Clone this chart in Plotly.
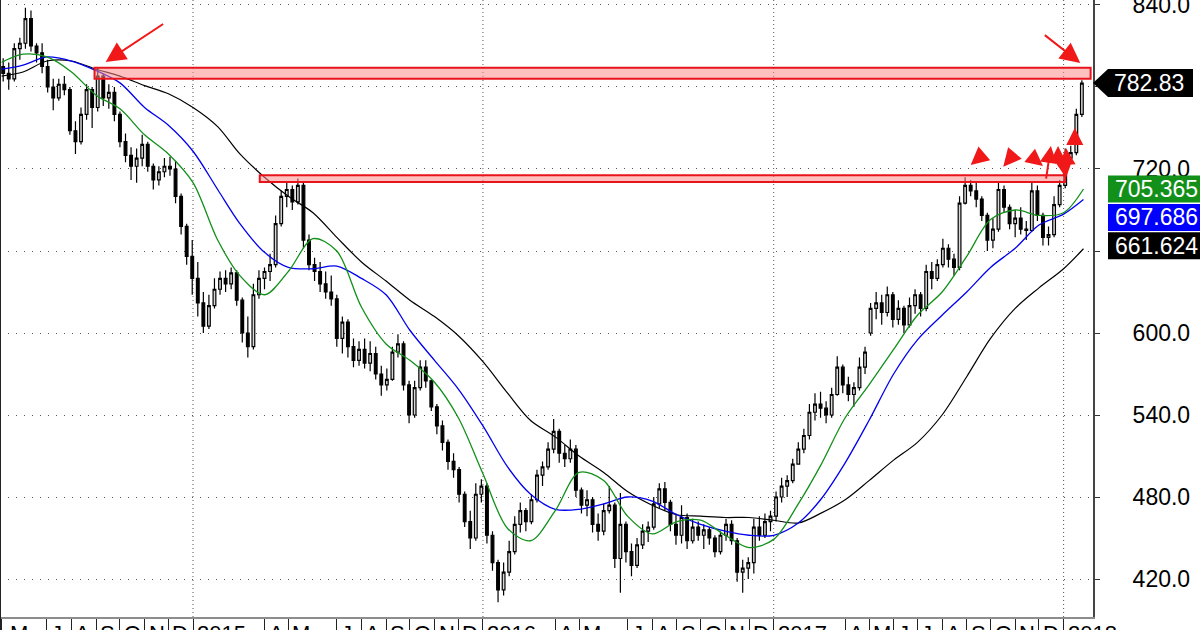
import plotly.graph_objects as go
import pandas as pd

# ---------------- data ----------------
week_dates = pd.date_range("2014-05-07", periods=195, freq="7D")

opens = [795,790,786,808,812,830,810,805,795,780,772,782,778,748,740,760,778,765,788,772,
         776,760,740,730,722,728,738,722,712,718,722,720,700,678,656,640,622,605,620,632,
         640,636,644,624,600,590,628,640,645,650,680,700,705,696,708,668,650,645,636,630,
         625,596,608,590,580,588,578,585,570,562,566,586,592,562,540,560,575,565,546,532,
         520,506,500,482,462,450,482,488,452,432,412,425,440,460,470,462,478,496,502,515,
         528,512,508,515,485,474,478,460,455,470,474,435,460,440,430,445,455,458,475,486,
         476,460,452,465,448,458,452,456,450,440,452,460,448,425,428,432,458,452,462,466,
         480,488,492,504,515,525,542,548,545,540,555,575,562,555,560,575,600,618,622,615,
         628,610,618,606,620,628,618,645,640,650,662,654,648,695,708,704,698,686,668,676,
         705,692,680,684,676,675,704,686,670,672,694,708,728,732,760]
highs = [801,798,812,816,838,836,812,812,800,786,786,788,780,755,765,782,780,794,790,782,
         780,762,746,736,735,745,740,724,722,728,729,726,702,680,668,652,630,628,640,645,
         646,648,646,626,612,636,646,648,658,686,704,710,708,713,710,672,655,652,645,642,
         628,612,610,596,594,596,594,590,576,574,590,599,594,565,565,580,580,566,548,536,
         522,512,502,484,470,490,493,490,455,434,432,448,466,476,472,482,500,506,520,537,
         530,518,522,518,487,485,480,468,475,488,476,483,462,446,450,460,462,480,490,491,
         478,468,474,468,464,462,460,458,452,455,464,463,450,434,436,464,466,468,470,484,
         494,496,508,520,530,548,556,557,550,560,583,577,568,564,582,590,622,630,628,634,
         630,624,620,626,632,630,650,652,654,669,665,658,700,714,712,710,700,688,684,711,
         708,694,690,692,682,710,708,688,678,700,712,735,737,764,785]
lows = [784,778,784,800,808,806,798,790,776,763,770,774,745,731,738,756,750,762,766,764,
        755,736,725,712,710,722,718,705,708,714,715,695,672,650,628,612,600,603,618,628,
        630,632,620,593,582,588,625,632,638,648,678,692,690,694,662,646,638,630,625,620,
        590,585,582,575,576,574,572,566,554,558,565,582,558,534,538,558,560,543,526,514,
        500,494,476,458,442,448,476,446,426,403,408,422,438,454,455,460,476,488,500,512,
        505,502,505,480,468,466,454,448,452,468,428,410,432,422,428,442,447,456,472,470,
        455,445,446,442,446,448,442,445,436,438,448,445,418,410,420,424,448,450,455,462,
        476,480,490,504,512,522,536,538,534,538,554,556,550,546,558,570,598,610,606,612,
        604,606,600,604,614,612,616,632,638,648,648,642,646,694,700,692,682,660,662,674,
        688,676,670,672,668,674,682,664,664,670,692,706,724,730,758]
closes = [790,786,808,812,830,810,805,795,780,772,782,778,748,740,760,778,765,788,772,776,
          760,740,730,722,728,738,722,712,718,722,720,700,678,656,640,622,605,620,632,640,
          636,644,624,600,590,628,640,645,650,680,700,705,696,708,668,650,645,636,630,625,
          596,608,590,580,588,578,585,570,562,566,586,592,562,540,560,575,565,546,532,520,
          506,500,482,462,450,482,488,452,432,412,425,440,460,470,462,478,496,502,515,528,
          512,508,515,485,474,478,460,455,470,474,435,460,440,430,445,455,458,475,486,476,
          460,452,465,448,458,452,456,450,440,452,460,448,425,428,432,458,452,462,466,480,
          488,492,504,515,525,542,548,545,540,555,575,562,555,560,575,586,618,622,615,628,
          610,618,606,620,628,618,645,640,650,662,654,648,695,708,704,698,686,668,676,705,
          692,680,684,676,675,704,686,670,672,694,708,728,732,760,782.83]

# moving averages read at the start of each month (plus first / last day)
ma_dates = (["2014-05-05"]
            + [d.strftime("%Y-%m-%d") for d in pd.date_range("2014-06-01", "2018-01-01", freq="MS")]
            + ["2018-01-26"])
ma_green = [798, 804, 802, 791, 774, 764, 745, 731,
            710, 668, 642, 628, 645, 669, 660, 619, 592, 580, 564, 538,
            497, 457, 448, 470, 498, 492, 466, 453, 462, 463, 452, 443,
            449, 475, 503, 538, 562, 588, 613, 630, 656, 683, 690, 686,
            688, 705.365]
ma_blue = [793, 796, 802, 799, 792, 783, 765, 752,
           733, 705, 680, 659, 648, 647, 649, 640, 628, 602, 580, 559,
           532, 502, 482, 471, 471, 475, 480, 477, 467, 460, 455, 452,
           452, 461, 478, 505, 536, 570, 595, 613, 630, 648, 662, 679,
           687, 697.686]
ma_black = [788, 791, 799, 799, 793, 788, 781, 775,
            765, 751, 731, 714, 700, 688, 670, 652, 638, 624, 612, 598,
            579, 556, 536, 524, 510, 498, 484, 474, 467, 466, 465, 465,
            463, 461, 468, 478, 492, 507, 520, 540, 568, 596, 618, 633,
            647, 661.624]

# y-axis ticks
y_ticks = [420, 480, 540, 600, 660, 720, 780, 840]
y_ticktext = ["420.0", "480.0", "540.0", "600.0", "", "720.0", "", "840.0"]

# month labels on the time axis (first one = first visible trading day)
month_label_dates = ["2014-05-05", "2014-07-01", "2014-08-01", "2014-09-01", "2014-10-01", "2014-11-01", "2014-12-01",
                     "2015-01-01", "2015-04-01", "2015-05-01", "2015-07-01", "2015-08-01", "2015-09-01", "2015-10-01",
                     "2015-11-01", "2015-12-01",
                     "2016-01-01", "2016-04-01", "2016-05-01", "2016-07-01", "2016-08-01", "2016-09-01", "2016-10-01",
                     "2016-11-01", "2016-12-01",
                     "2017-01-01", "2017-04-01", "2017-05-01", "2017-06-01", "2017-07-01", "2017-08-01", "2017-09-01",
                     "2017-10-01", "2017-11-01", "2017-12-01", "2018-01-01"]
month_labels = ["M", "J", "A", "S", "O", "N", "D",
                "2015", "A", "M", "J", "A", "S", "O", "N", "D",
                "2016", "A", "M", "J", "A", "S", "O", "N", "D",
                "2017", "A", "M", "J", "J", "A", "S", "O", "N", "D", "2018"]
year_starts = ["2015-01-01", "2016-01-01", "2017-01-01", "2018-01-01"]

# resistance zones (start, end, low, high)
zone_start = ["2014-08-30", "2015-03-26"]
zone_end = ["2018-02-04", "2018-01-03"]
zone_low = [786, 710.5]
zone_high = [794, 715.5]

# red arrows: head date, head value, tail offset (px)
arrow_dates = ["2014-09-13", "2018-01-22", "2017-09-06", "2017-10-17", "2017-12-06",
               "2017-12-16", "2017-12-25", "2018-01-04", "2018-01-04", "2018-01-15"]
arrow_values = [798.3, 797.6, 722.9, 721.7, 722.2, 736.8, 736.8, 735.4, 713.4, 750]
arrow_ax = [59, -37, 14, 12, -10, -5, 0, 1, -2, 0]
arrow_ay = [-39, -29, -12, -14, -8, 34, 15, 15, -16, 18]
arrow_size = [2.0, 2.0, 1.8, 1.8, 1.7, 1.7, 1.7, 1.7, 1.7, 1.7]

last_price = closes[-1]

# ---------------- figure ----------------
FONT = "Liberation Sans, Arial, sans-serif"
GREEN = "#12901a"
BLUE = "#0000ee"

fig = go.Figure()

fig.add_trace(go.Candlestick(
    x=week_dates, open=opens, high=highs, low=lows, close=closes,
    increasing=dict(line=dict(color="black", width=1.2), fillcolor="#d8d8d8"),
    decreasing=dict(line=dict(color="black", width=1.2), fillcolor="black"),
    whiskerwidth=0, showlegend=False, hoverinfo="skip"))

for vals, col, w in [(ma_black, "black", 1.2), (ma_blue, BLUE, 1.3), (ma_green, GREEN, 1.3)]:
    fig.add_trace(go.Scatter(x=ma_dates, y=vals, mode="lines",
                             line=dict(color=col, width=w, shape="spline", smoothing=0.9),
                             showlegend=False, hoverinfo="skip"))

shapes = []
# vertical dotted year lines
for d in year_starts:
    shapes.append(dict(type="line", xref="x", yref="paper", x0=d, x1=d, y0=0, y1=1,
                       line=dict(color="#555", width=1, dash="1px,3px"), layer="below"))
# left border
shapes.append(dict(type="line", xref="paper", yref="paper", x0=0, x1=0, y0=-0.03, y1=1,
                   line=dict(color="#222", width=2)))
# resistance zones
for s, e, lo, hi in zip(zone_start, zone_end, zone_low, zone_high):
    shapes.append(dict(type="rect", xref="x", yref="y", x0=s, x1=e, y0=lo, y1=hi,
                       fillcolor="rgba(255,140,140,0.55)", line=dict(color="#e8141c", width=2),
                       layer="above"))

# price badges on the right axis
bx0 = 1108 / 1093
shapes.append(dict(type="path", xref="paper", yref="y", ysizemode="pixel", yanchor=last_price,
                   path=f"M 1,0 L {bx0},14 L {1193/1093},14 L {1193/1093},-14 L {bx0},-14 Z",
                   fillcolor="black", line=dict(width=0), layer="above"))
badges = [(ma_green[-1], GREEN, 0), (ma_blue[-1], "#0000ff", -18), (ma_black[-1], "black", 3)]
for val, col, off in badges:
    shapes.append(dict(type="rect", xref="paper", yref="y", ysizemode="pixel", yanchor=val,
                       x0=bx0, x1=1.12, y0=off - 13.5, y1=off + 13.5,
                       fillcolor=col, line=dict(width=0), layer="above"))

annotations = []
annotations.append(dict(x=1149 / 1093, y=last_price, xref="paper", yref="y", text=f"{last_price:.2f}",
                        showarrow=False, xanchor="center", yanchor="middle",
                        font=dict(family=FONT, size=23, color="white")))
for val, col, off in badges:
    annotations.append(dict(x=1113 / 1093, y=val, xref="paper", yref="y", text=f"{val:.3f}",
                            showarrow=False, xanchor="left", yanchor="middle", yshift=off,
                            font=dict(family=FONT, size=23, color="white")))

for i, (d, t) in enumerate(zip(month_label_dates, month_labels)):
    annotations.append(dict(x=d, y=0, xref="x", yref="paper", text=t, showarrow=False,
                            xanchor="left", yanchor="top", xshift=6 if i == 0 else 2, yshift=-2,
                            font=dict(family=FONT, size=22, color="black")))

for d, v, ax, ay, sz in zip(arrow_dates, arrow_values, arrow_ax, arrow_ay, arrow_size):
    annotations.append(dict(x=d, y=v, xref="x", yref="y", ax=ax, ay=ay, axref="pixel", ayref="pixel",
                            text="", showarrow=True, arrowhead=2, arrowsize=sz, arrowwidth=2,
                            arrowcolor="#f01818"))

fig.update_layout(
    width=1200, height=630,
    margin=dict(l=0, r=107, t=0, b=13, autoexpand=False),
    paper_bgcolor="white", plot_bgcolor="white",
    showlegend=False, shapes=shapes, annotations=annotations,
    xaxis=dict(type="date", range=["2014-05-03", "2018-02-07"], showgrid=False, zeroline=False,
               showline=True, linecolor="#8c8c8c", linewidth=2, automargin=False,
               ticks="outside", ticklen=14, tickwidth=1, tickcolor="#222",
               tickvals=month_label_dates, showticklabels=False,
               rangeslider=dict(visible=False)),
    yaxis=dict(side="right", range=[392.2, 843.65], tickvals=y_ticks, ticktext=y_ticktext,
               tickfont=dict(family=FONT, size=23, color="black"), automargin=False,
               ticks="outside", ticklen=5, tickcolor="#333",
               showline=True, linecolor="#444", linewidth=2, zeroline=False,
               showgrid=True, gridcolor="#555", gridwidth=1, griddash="1px,7px",
               ticklabelstandoff=28, ticklabeloverflow="allow"),
)

fig.write_html("out.html", config={"displayModeBar": False},
               post_script="document.body.style.margin='0';document.body.style.overflow='hidden';")
